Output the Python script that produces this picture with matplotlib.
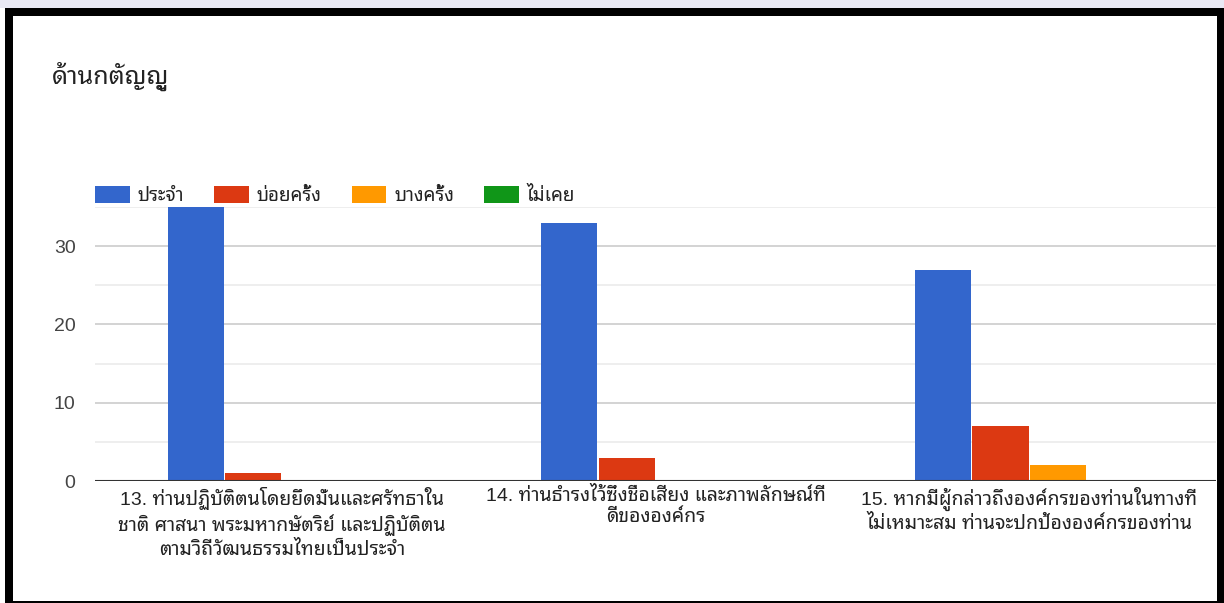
import numpy as np
import matplotlib
matplotlib.use('Agg')
import matplotlib.pyplot as plt
from matplotlib.patches import Rectangle

plt.rcParams['font.family'] = ['Liberation Sans', 'Noto Sans Thai Looped']

title = 'ด้านกตัญญู'
questions = [
    '13. ท่านปฏิบัติตนโดยยึดมั่นและศรัทธาใน\nชาติ ศาสนา พระมหากษัตริย์ และปฏิบัติตน\nตามวิถีวัฒนธรรมไทยเป็นประจำ',
    '14. ท่านธำรงไว้ซึ่งชื่อเสียง และภาพลักษณ์ที่\nดีขององค์กร',
    '15. หากมีผู้กล่าวถึงองค์กรของท่านในทางที่\nไม่เหมาะสม ท่านจะปกป้ององค์กรของท่าน',
]
series = ['ประจำ', 'บ่อยครั้ง', 'บางครั้ง', 'ไม่เคย']
prachum = [35, 33, 27]
boykrang = [1, 3, 7]
bangkrang = [0, 0, 2]
maikoei = [0, 0, 0]
colors = ['#3366cc', '#dc3912', '#ff9900', '#109618']

W, H = 1224, 603
fig = plt.figure(figsize=(W / 100, H / 100), dpi=100)
fig.patch.set_facecolor('white')

# screenshot background + black frame
fig.patches.append(Rectangle((0, 1 - 8 / H), 1, 8 / H, transform=fig.transFigure,
                             facecolor='#e9e9f4', edgecolor='none', zorder=-3))
fig.patches.append(Rectangle((5 / W, 0), 1 - 5 / W, 1 - 8 / H, transform=fig.transFigure,
                             facecolor='black', edgecolor='none', zorder=-2))
fig.patches.append(Rectangle((13 / W, 2 / H), (1217 - 13) / W, 1 - 18 / H, transform=fig.transFigure,
                             facecolor='white', edgecolor='none', zorder=-1))

ax = fig.add_axes([95 / W, 1 - 481 / H, (1216 - 95) / W, (481 - 207) / H])
ax.set_facecolor('none')

x = np.arange(len(questions))
step = 0.1535
width = 0.15
for i, (name, vals) in enumerate(zip(series, [prachum, boykrang, bangkrang, maikoei])):
    ax.bar(x + (i - 1.5) * step, vals, width, color=colors[i], label=name, zorder=3)

ax.set_xlim(-0.5, 2.5)
ax.set_ylim(0, 35)
ax.set_yticks([0, 10, 20, 30])
ax.set_yticks([5, 15, 25, 35], minor=True)
ax.grid(axis='y', which='major', color='#cccccc', linewidth=1.2, zorder=0)
ax.grid(axis='y', which='minor', color='#ebebeb', linewidth=1.2, zorder=0)
ax.axhline(0, color='#333333', linewidth=1.5, zorder=4)
for s in ax.spines.values():
    s.set_visible(False)
ax.tick_params(axis='y', which='both', length=0, pad=14, labelsize=14, labelcolor='#444444')
ax.tick_params(axis='x', length=0, pad=4, labelsize=14, labelcolor='#222222')
ax.set_xticks(x)
ax.set_xticklabels(questions, linespacing=1.3)

fig.text(52 / W, 1 - 76 / H, title, fontsize=18, color='#222222', va='center', ha='left')

ax.legend(loc='lower left', bbox_to_anchor=(95 / W, 1 - 205 / H), bbox_transform=fig.transFigure,
          ncol=4, frameon=False, fontsize=13.5, handlelength=1.85, handleheight=0.95,
          handletextpad=0.42, columnspacing=1.6, borderpad=0, borderaxespad=0,
          labelcolor='#222222')

fig.savefig('out.png', dpi=100)
